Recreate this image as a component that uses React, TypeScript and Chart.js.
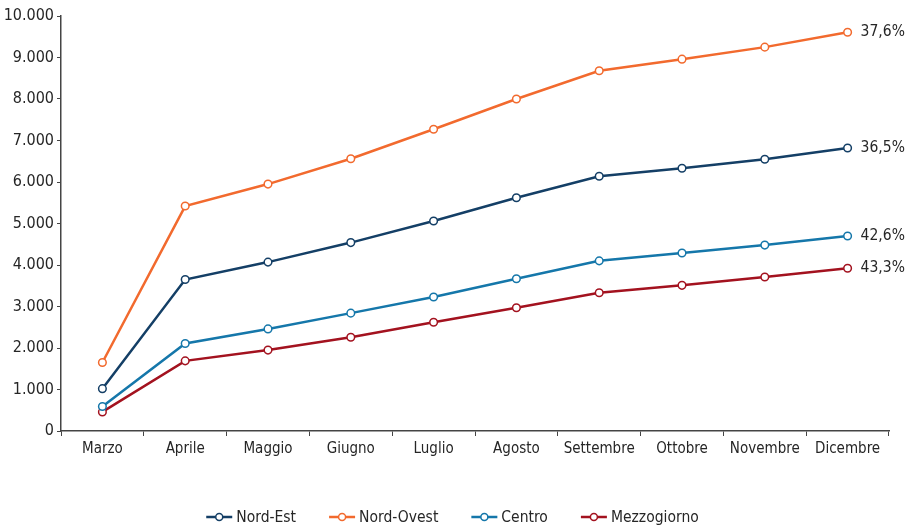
import React, { useEffect, useRef } from "react";
import { Chart, registerables } from "chart.js";

Chart.register(...registerables);

const months = ["Marzo", "Aprile", "Maggio", "Giugno", "Luglio", "Agosto", "Settembre", "Ottobre", "Novembre", "Dicembre"];
const nordEst = [1020, 3650, 4070, 4540, 5060, 5620, 6140, 6330, 6550, 6820];
const nordOvest = [1650, 5420, 5950, 6560, 7270, 8000, 8680, 8960, 9250, 9610];
const centro = [590, 2110, 2460, 2840, 3230, 3670, 4100, 4290, 4480, 4700];
const mezzogiorno = [460, 1690, 1950, 2260, 2620, 2970, 3330, 3510, 3710, 3920];
const seriesNames = ["Nord-Est", "Nord-Ovest", "Centro", "Mezzogiorno"];
const endLabels = ["36,5%", "37,6%", "42,6%", "43,3%"];
const colors = ["#143f66", "#f26a2e", "#1577aa", "#a3121f"];

const FONT = "'Liberation Sans Narrow', 'DejaVu Sans Condensed', 'Roboto Condensed', 'Arial Narrow', sans-serif";
const TEXT = "#262626";

const endLabelPlugin = {
  id: "endLabels",
  afterDatasetsDraw(chart: any) {
    const ctx = chart.ctx;
    ctx.save();
    ctx.font = `15.5px ${FONT}`;
    ctx.fillStyle = TEXT;
    ctx.textAlign = "left";
    ctx.textBaseline = "middle";
    chart.data.datasets.forEach((ds: any, i: number) => {
      const meta = chart.getDatasetMeta(i);
      const pt = meta.data[meta.data.length - 1];
      if (pt) ctx.fillText(endLabels[i], pt.x + 13, pt.y);
    });
    ctx.restore();
  },
};

const legendPlugin = {
  id: "customLegend",
  afterDraw(chart: any) {
    const ctx = chart.ctx;
    ctx.save();
    ctx.font = `15.5px ${FONT}`;
    const iconW = 26;
    const gapIcon = 4;
    const gapItem = 33;
    const ds = chart.data.datasets;
    const widths = ds.map((d: any) => iconW + gapIcon + ctx.measureText(d.label).width);
    const total = widths.reduce((a: number, b: number) => a + b, 0) + gapItem * (ds.length - 1);
    let x = (chart.width - total) / 2;
    const y = chart.height - 11;
    ds.forEach((d: any, i: number) => {
      ctx.strokeStyle = d.borderColor;
      ctx.lineWidth = 2.5;
      ctx.beginPath();
      ctx.moveTo(x, y);
      ctx.lineTo(x + iconW, y);
      ctx.stroke();
      ctx.fillStyle = "#fff";
      ctx.lineWidth = 1.5;
      ctx.beginPath();
      ctx.arc(x + iconW / 2, y, 3.5, 0, Math.PI * 2);
      ctx.fill();
      ctx.stroke();
      ctx.fillStyle = TEXT;
      ctx.textAlign = "left";
      ctx.textBaseline = "middle";
      ctx.fillText(d.label, x + iconW + gapIcon, y + 1);
      x += widths[i] + gapItem;
    });
    ctx.restore();
  },
};

export default function App() {
  const ref = useRef<HTMLCanvasElement>(null);
  useEffect(() => {
    const series = [nordEst, nordOvest, centro, mezzogiorno];
    const chart = new Chart(ref.current!, {
      type: "line",
      data: {
        labels: months,
        datasets: series.map((d, i) => ({
          label: seriesNames[i],
          data: d,
          borderColor: colors[i],
          backgroundColor: "#ffffff",
          pointBackgroundColor: "#ffffff",
          pointBorderColor: colors[i],
          pointBorderWidth: 1.5,
          pointRadius: 3.8,
          borderWidth: 2.5,
          tension: 0,
        })),
      },
      options: {
        animation: false,
        responsive: false,
        maintainAspectRatio: false,
        layout: { padding: { top: 16, right: 16, bottom: 0, left: 0 } },
        plugins: {
          tooltip: { enabled: false },
          legend: { display: false },
        },
        scales: {
          x: {
            type: "category",
            offset: true,
            grid: { offset: true, drawOnChartArea: false, drawTicks: true, tickLength: 5, color: "#444" },
            border: { color: "#444", width: 1.5 },
            ticks: { color: TEXT, font: { family: FONT, size: 15 }, padding: 4, maxRotation: 0, autoSkip: false },
            afterFit: (scale: any) => {
              scale.height = 97;
            },
          },
          y: {
            min: 0,
            max: 10000,
            grid: { drawOnChartArea: false, drawTicks: true, tickLength: 4, color: "#444" },
            border: { color: "#444", width: 1.5 },
            ticks: {
              stepSize: 1000,
              color: TEXT,
              padding: 3,
              font: { family: FONT, size: 16 },
              callback: (v: any) => String(v).replace(/\B(?=(\d{3})+(?!\d))/g, "."),
            },
            afterFit: (scale: any) => {
              scale.width = 61;
            },
          },
        },
      },
      plugins: [endLabelPlugin, legendPlugin],
    } as any);
    return () => chart.destroy();
  }, []);
  return (
    <div style={{ position: "absolute", left: 0, top: 0, width: 905, height: 528, background: "#fff" }}>
      <canvas ref={ref} width={905} height={528} style={{ width: 905, height: 528 }} />
    </div>
  );
}
